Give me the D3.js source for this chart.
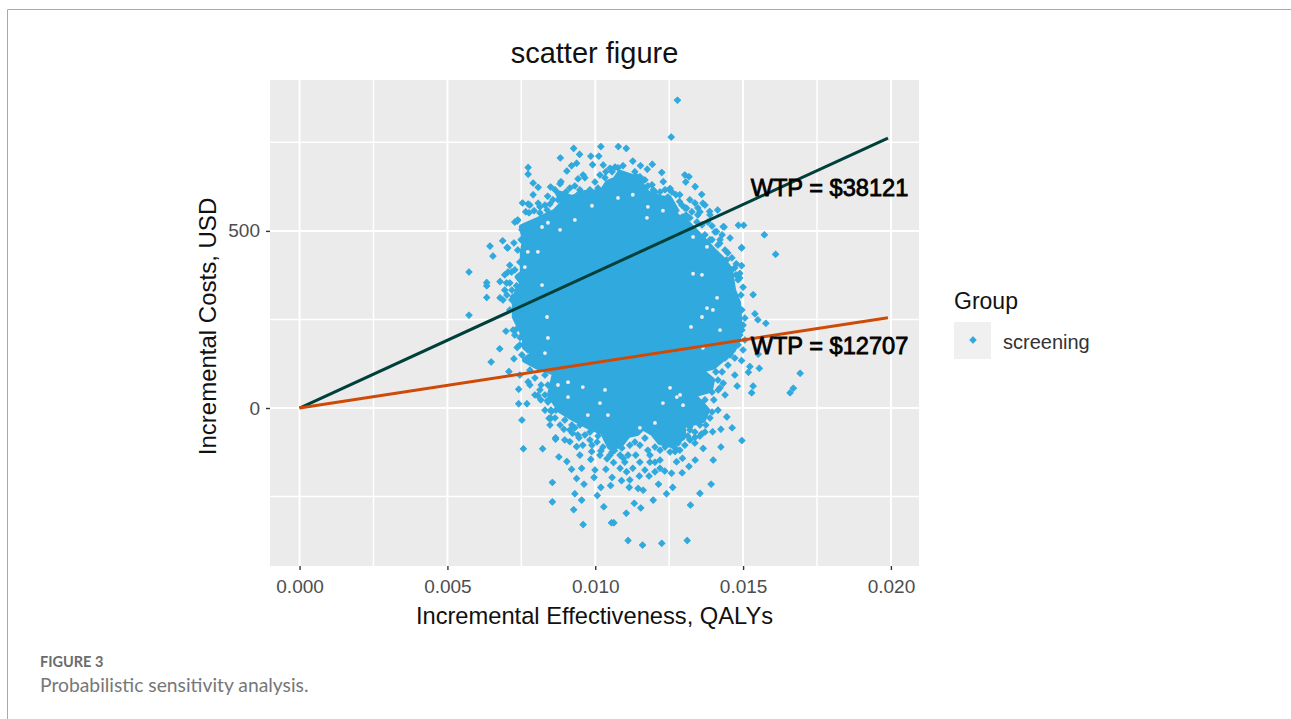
<!DOCTYPE html>
<html lang="en">
<head>
<meta charset="UTF-8">
<title>scatter figure</title>
<script src="https://d3js.org/d3.v7.min.js"></script>
<style>
    body { margin: 0; background: #fff; }
    svg { display: block; }
    text { font-family: "Liberation Sans", Arial, sans-serif; }
</style>
</head>
<body>
<svg id="chart" width="1291" height="719"></svg>
<script>
// tick values
const xMajor = [0, 0.005, 0.01, 0.015, 0.02];
const xMinor = [0.0025, 0.0075, 0.0125, 0.0175];
const yMajor = [0, 500];
const yMinor = [-250, 250, 750];

// the two WTP lines, [effectiveness, cost]
const wtpHighLine = [[0, 0], [0.0199, 762]];
const wtpLowLine = [[0, 0], [0.0199, 255]];
const wtpLabels = ["WTP = $38121", "WTP = $12707"];

// solid middle of the cloud, too dense to read single points: outline only
const coreOutline = [
    [.00755,438],[.00762,475],[.00752,511],[.00806,531],[.00864,554],[.00891,579],[.00874,607],[.00921,593],
    [.00965,607],[.01023,610],[.01043,636],[.01067,644],[.01084,664],[.01134,650],[.01151,636],[.01175,607],
    [.01219,593],[.01253,588],[.01276,554],[.01310,523],[.01344,494],[.01398,446],[.01432,418],[.01456,390],
    [.01466,333],[.01483,297],[.01489,220],[.01479,184],[.01466,164],[.01398,116],[.01354,107],[.01395,79],
    [.01388,51],[.01330,37],[.01378,-6],[.01364,-34],[.01330,-42],[.01297,-48],[.01297,-82],[.01259,-105],
    [.01219,-96],[.01195,-71],[.01161,-54],[.01141,-71],[.01111,-76],[.01084,-105],[.01050,-110],[.01026,-68],
    [.00982,-54],[.00924,-28],[.00881,-6],[.00847,37],[.00864,99],[.00806,116],[.00762,136],[.00796,155],
    [.00762,172],[.00762,200],[.00728,257],[.00728,297],[.00738,333],[.00755,353],[.00738,370],[.00755,381]
];

// small empty spots inside the solid part
const coreGaps = [
    [.00989,571],[.00931,531],[.00881,503],[.00840,523],[.00820,511],[.01077,593],[.00806,441],[.00772,441],
    [.00762,398],[.01127,602],[.01175,537],[.01229,557],[.01178,568],[.01287,551],[.01331,483],[.01378,455],
    [.00820,347],[.00837,257],[.00840,198],[.00830,155],[.00874,65],[.00908,73],[.00958,59],[.01033,51],
    [.01331,379],[.01361,376],[.01412,311],[.01378,282],[.01361,257],[.01324,229],[.01422,220],[.01398,277],
    [.01364,170],[.01253,57],[.01287,37],[.01043,-20],[.00975,-20],[.01229,14],[.01276,31],[.01202,-42],
    [.01151,-56],[.00908,31],[.01016,14],[.01297,8]
];

// points right around the solid part
const fringePoints = [
    [.00864,616],[.00881,633],[.00891,602],[.00847,576],[.00813,568],[.00779,573],[.00765,554],[.00776,551],
    [.00793,557],[.00738,531],[.00728,525],[.00752,503],[.00749,475],[.00725,466],[.00772,475],[.00782,497],
    [.00830,573],[.00931,627],[.00965,650],[.00982,616],[.01016,658],[.01033,650],[.01057,630],[.01101,636],
    [.01111,650],[.01134,667],[.01168,644],[.01192,630],[.01202,610],[.01236,616],[.01259,610],[.01273,602],
    [.01320,588],[.01337,579],[.01354,554],[.01371,573],[.01327,554],[.01293,573],[.01307,545],[.01361,517],
    [.01381,525],[.01405,497],[.01422,475],[.01439,446],[.01462,424],[.01472,396],[.01483,362],[.01493,319],
    [.01496,277],[.01506,254],[.01506,192],[.01500,164],[.01472,141],[.01449,121],[.01429,102],[.01472,93],
    [.01415,79],[.01439,37],[.01401,23],[.01415,-6],[.01388,-28],[.01354,-48],[.01320,-62],[.01371,-68],
    [.01337,-99],[.01303,-105],[.01286,-119],[.01253,-124],[.01219,-119],[.01178,-119],[.01151,-105],[.01117,-105],
    [.01137,-133],[.01100,-153],[.00830,-6],[.00847,-48],[.00881,-48],[.00897,-90],[.00914,-62],[.00931,-56],
    [.00965,-76],[.00982,-90],[.00989,-105],[.01006,-96],[.01040,-90],[.01016,-133],[.01057,-124],[.01084,-133],
    [.01111,-133],[.01127,-170],[.01151,-153],[.01185,-133],[.01202,-153],[.01219,-147],[.00722,314],[.00711,353],
    [.00718,333],[.00694,333],[.00738,291],[.00711,277],[.00728,206],[.00745,178],[.00752,150],[.00772,164],
    [.00779,65],[.00796,85],[.00830,93],[.00813,51],[.00840,65],[.00864,65],
    [.00813,551],[.00837,559],[.00857,588],[.00874,588],[.00901,610],[.00914,621],[.00948,616],[.00941,602],
    [.00999,638],[.01009,621],[.01036,667],[.01057,667],[.01077,678],[.01090,658],[.01124,636],[.01151,653],
    [.01178,627],[.01219,610],[.01246,596],[.01286,602],[.01303,565],[.01320,537],[.01344,525],[.01347,545],
    [.01388,545],[.01395,514],[.01371,489],[.01415,460],[.01395,475],[.01429,489],[.01476,376],[.01466,305],
    [.01479,277],[.01472,234],[.01496,220],[.01483,178],[.01456,150],[.01439,141],[.01408,102],[.01378,85],
    [.01422,57],[.01395,45],[.01371,23],[.01354,-6],[.01395,-11],[.01374,-48],[.01337,-68],[.01313,-79],
    [.01354,-79],[.01280,-99],[.00867,-6],[.00864,-28],[.00897,-34],[.00921,-48],[.00948,-48],[.00941,-76],
    [.00958,-105],[.00982,-68],[.01009,-79],[.01026,-110],[.01067,-105],[.01050,-133],[.01090,-113],[.01134,-96],
    [.01168,-85],[.01202,-110],[.01236,-110],[.01270,-113],[.01320,-90],[.01185,-153],[.01168,-175],[.01219,-170],
    [.00694,376],[.00728,390],[.00745,412],[.00738,446],[.00711,403],[.00718,305],[.00701,319],[.00752,277],
    [.00745,234],[.00722,220],[.00779,107],[.00745,93],[.00796,37],[.00830,37],[.00840,17],[.00816,23]
];

// single points that can be read one by one
const outerPoints = [
    [.01278,869],[.01257,765],[.01019,738],[.01078,738],[.01105,733],[.00927,733],[.00947,716],[.00882,706],
    [.00985,711],[.01012,711],[.00991,687],[.01127,697],[.01094,684],[.01153,684],[.01193,688],[.01176,674],
    [.01225,665],[.00773,679],[.00773,660],[.00904,669],[.00937,691],[.00920,684],[.01303,658],[.01317,653],
    [.01306,638],[.01338,625],[.01360,603],[.00790,635],[.00807,623],[.00849,624],[.00790,602],[.00839,598],
    [.00884,639],[.00959,658],[.00942,647],[.01050,677],[.01027,686],[.01067,680],[.01230,639],[.01253,620],
    [.01196,616],[.01162,644],[.01140,653],[.00754,579],[.00773,576],[.00807,578],[.00736,528],[.00757,503],
    [.01484,516],[.01502,516],[.01572,489],[.01436,511],[.01495,453],[.01456,480],[.00687,472],[.00702,453],
    [.00644,457],[.00704,452],[.00654,429],[.00573,384],[.00633,354],[.00633,345],[.00633,312],[.00573,262],
    [.00698,217],[.00731,221],[.00746,199],[.00677,167],[.00725,139],[.00736,171],[.00648,130],[.00708,103],
    [.00741,53],[.00773,74],[.00806,35],[.00817,65],[.00839,21],[.00741,12],[.00769,12],[.00850,-6],
    [.00850,-29],[.00752,-34],[.00866,-84],[.00678,311],[.00700,353],[.00678,357],[.00705,384],[.00717,384],
    [.00688,305],[.00734,345],[.00757,-115],[.00822,-115],[.00844,-29],[.00852,-10],[.00894,-60],[.00866,-88],
    [.00877,-138],[.00904,-151],[.00948,-133],[.00945,-84],[.00914,-95],[.00923,-71],[.00937,-109],[.00855,-210],
    [.00855,-265],[.00920,-173],[.00954,-170],[.00937,-199],[.00962,-215],[.00931,-242],[.00954,-260],[.00927,-287],
    [.00959,-329],[.00985,-145],[.00988,-123],[.00999,-175],[.01036,-173],[.00996,-196],[.01019,-224],[.01007,-247],
    [.01029,-279],[.01052,-219],[.01057,-196],[.01055,-324],[.01063,-324],[.01089,-205],[.01115,-224],[.01117,-203],
    [.01062,-154],[.01095,-142],[.01019,-121],[.01040,-143],[.01065,-120],[.01084,-170],[.01106,-180],[.01145,-227],
    [.01162,-232],[.01149,-192],[.01182,-192],[.01202,-180],[.01214,-215],[.01235,-178],[.01258,-184],[.01262,-224],
    [.01241,-242],[.01196,-260],[.01132,-269],[.01154,-282],[.01105,-297],[.01111,-374],[.01160,-387],[.01225,-382],
    [.01311,-374],[.01322,-274],[.01354,-241],[.01392,-215],[.01294,-183],[.01317,-165],[.01338,-147],[.01399,-147],
    [.01425,-110],[.01496,-92],[.01463,-56],[.01445,-25],[.01425,-60],[.01397,-67],[.01360,-73],[.01365,-114],
    [.01337,-83],[.01320,-53],[.01270,-123],[.01295,-142],[.01275,-152],[.01610,434],[.01495,452],[.01495,402],
    [.01489,380],[.01489,367],[.01500,341],[.01534,320],[.01477,294],[.01540,266],[.01550,249],[.01577,239],
    [.01500,234],[.01489,206],[.01551,152],[.01495,134],[.01523,117],[.01518,101],[.01555,112],[.01693,98],
    [.01670,56],[.01659,43],[.01534,62],[.01529,43],[.01480,62],[.01433,70],[.01416,51],[.01456,155],
    [.01461,390],[.01439,347],[.01433,512],[.01364,578],[.01347,565],[.01309,564],[.01285,583],[.01252,616],
    [.01414,559],[.01387,555],[.01410,498],[.01421,465],[.01448,438],[.01388,475],[.01477,407],[.01444,418]
];

const blue = "#30a9de";
const svg = d3.select("#chart");

// panel runs a little past the data on every side, as ggplot does
const x = d3.scaleLinear().domain([-0.001, 0.02095]).range([270, 919]);
const y = d3.scaleLinear().domain([-446, 926]).range([566, 80]);

// page frame
svg.append("path").attr("d", "M7.5,719V9.5H1291").attr("fill", "none").attr("stroke", "#aaa").attr("stroke-width", 1);

// panel and grid
svg.append("rect").attr("x", 270).attr("y", 80).attr("width", 649).attr("height", 486).attr("fill", "#ebebeb");
const grid = svg.append("g").attr("stroke", "#fff");
grid.selectAll(".vminor").data(xMinor).enter().append("line").attr("stroke-width", 1.5)
    .attr("x1", d => x(d)).attr("x2", d => x(d)).attr("y1", 80).attr("y2", 566);
grid.selectAll(".hminor").data(yMinor).enter().append("line").attr("stroke-width", 1.5)
    .attr("y1", d => y(d)).attr("y2", d => y(d)).attr("x1", 270).attr("x2", 919);
grid.selectAll(".vmajor").data(xMajor).enter().append("line").attr("stroke-width", 2)
    .attr("x1", d => x(d)).attr("x2", d => x(d)).attr("y1", 80).attr("y2", 566);
grid.selectAll(".hmajor").data(yMajor).enter().append("line").attr("stroke-width", 2)
    .attr("y1", d => y(d)).attr("y2", d => y(d)).attr("x1", 270).attr("x2", 919);

// the cloud
const line = d3.line().x(d => x(d[0])).y(d => y(d[1]));
const diamond = d3.symbol(d3.symbolSquare, 20);
svg.append("path").attr("d", line(coreOutline) + "Z").attr("fill", blue).attr("stroke", blue)
    .attr("stroke-width", 6).attr("stroke-linejoin", "round");
svg.append("g").selectAll("path").data(fringePoints.concat(outerPoints)).enter().append("path")
    .attr("d", diamond)
    .attr("transform", d => `translate(${x(d[0])},${y(d[1])}) rotate(45)`)
    .attr("fill", blue).attr("stroke", blue).attr("stroke-width", 1).attr("stroke-linejoin", "round");
svg.append("g").selectAll("circle").data(coreGaps).enter().append("circle")
    .attr("cx", d => x(d[0])).attr("cy", d => y(d[1])).attr("r", 1.9).attr("fill", "#f1eeee");

// WTP lines
svg.append("path").attr("d", line(wtpHighLine)).attr("fill", "none").attr("stroke", "#00403a").attr("stroke-width", 3);
svg.append("path").attr("d", line(wtpLowLine)).attr("fill", "none").attr("stroke", "#cf4a06").attr("stroke-width", 3);

svg.selectAll(".wtp").data(wtpLabels).enter().append("text")
    .attr("x", 829.5).attr("y", (d, i) => i === 0 ? y(598) : y(153))
    .attr("text-anchor", "middle").attr("font-size", 23.6).attr("fill", "#000")
    .attr("stroke", "#000").attr("stroke-width", 0.8).text(d => d);

// axes
const xAxis = svg.append("g").attr("transform", "translate(0,566)")
    .call(d3.axisBottom(x).tickValues(xMajor).tickFormat(d3.format(".3f")).tickSize(4));
const yAxis = svg.append("g").attr("transform", "translate(270,0)")
    .call(d3.axisLeft(y).tickValues(yMajor).tickFormat(d3.format("d")).tickSize(4));
[xAxis, yAxis].forEach(a => {
    a.select(".domain").remove();
    a.selectAll("line").attr("stroke", "#333").attr("stroke-width", 1.4);
    a.selectAll("text").attr("font-size", 19).attr("fill", "#4d4d4d")
        .style("font-family", '"Liberation Sans", Arial, sans-serif');
});
xAxis.selectAll("text").attr("y", 14);
yAxis.selectAll("text").attr("x", -10);

// titles
svg.append("text").attr("x", 594.5).attr("y", 63).attr("text-anchor", "middle")
    .attr("font-size", 29).attr("fill", "#111").text("scatter figure");
svg.append("text").attr("x", 594.5).attr("y", 624).attr("text-anchor", "middle")
    .attr("font-size", 23.7).attr("fill", "#111").text("Incremental Effectiveness, QALYs");
svg.append("text").attr("transform", "translate(216,326.5) rotate(-90)").attr("text-anchor", "middle")
    .attr("font-size", 24).attr("fill", "#111").text("Incremental Costs, USD");

// legend
svg.append("text").attr("x", 954).attr("y", 309).attr("font-size", 23).attr("fill", "#111").text("Group");
svg.append("rect").attr("x", 954).attr("y", 322).attr("width", 37).attr("height", 37).attr("fill", "#f0f0f0");
svg.append("path").attr("d", diamond).attr("transform", "translate(973,340) rotate(45)")
    .attr("fill", blue).attr("stroke", blue).attr("stroke-linejoin", "round");
svg.append("text").attr("x", 1003).attr("y", 349).attr("font-size", 20).attr("fill", "#333").text("screening");

// caption
svg.append("text").attr("x", 40).attr("y", 667).attr("font-size", 14.5).attr("font-weight", 700)
    .style("font-family", "Lato, sans-serif").attr("fill", "#6b6b6b").text("FIGURE 3");
svg.append("text").attr("x", 40).attr("y", 692).attr("font-size", 19.3)
    .style("font-family", "Lato, sans-serif").attr("fill", "#777").text("Probabilistic sensitivity analysis.");
</script>
</body>
</html>
